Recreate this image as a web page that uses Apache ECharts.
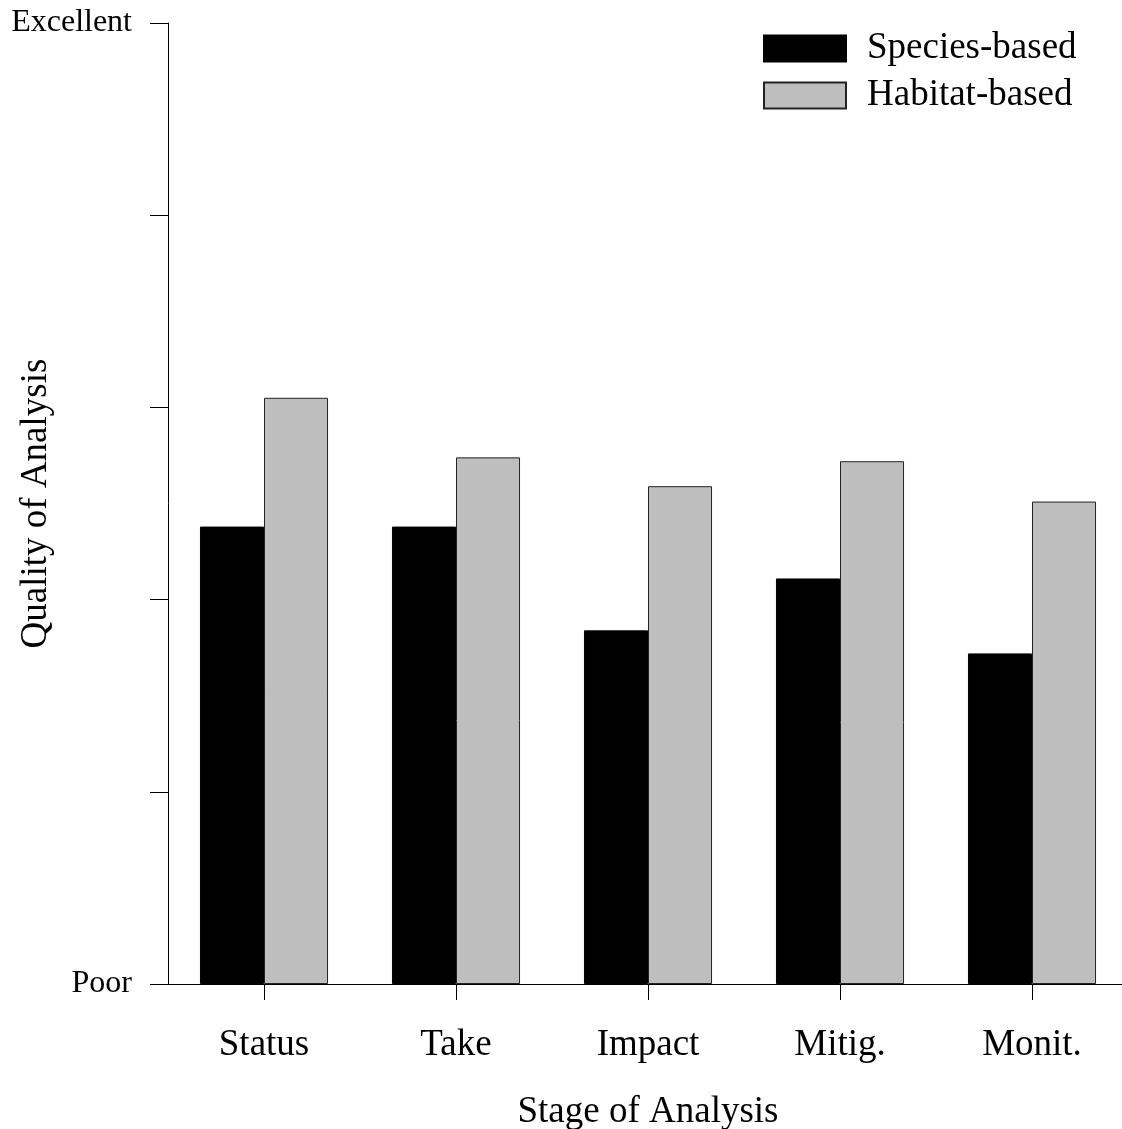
<!DOCTYPE html>
<html>
<head>
<meta charset="utf-8">
<script src="https://cdn.jsdelivr.net/npm/echarts@6/dist/echarts.min.js"></script>
<style>html,body{margin:0;padding:0;background:#fff;}#c{width:1122px;height:1129px;}</style>
</head>
<body>
<div id="c"></div>
<script>
const categories = ['Status', 'Take', 'Impact', 'Mitig.', 'Monit.'];
const speciesBased = [2.38, 2.38, 1.84, 2.11, 1.72];
const habitatBased = [3.05, 2.74, 2.59, 2.72, 2.51];
const yTickLabels = { 0: 'Poor', 5: 'Excellent' };
const seriesNames = ['Species-based', 'Habitat-based'];

const font = 'Liberation Serif, Times New Roman, serif';
const chart = echarts.init(document.getElementById('c'), null, { renderer: 'canvas' });
chart.setOption({
  backgroundColor: '#fff',
  animation: false,
  grid: { left: 168, top: 23, width: 960, height: 961, containLabel: false, outerBoundsMode: 'none' },
  legend: {
    left: 758, top: 25, orient: 'vertical',
    itemWidth: 82, itemHeight: 26, itemGap: 10,
    icon: 'rect',
    textStyle: { fontFamily: font, fontSize: 37, color: '#000', padding: [0, 0, 0, 16] },
    data: seriesNames
  },
  xAxis: {
    type: 'category', data: categories,
    name: 'Stage of Analysis', nameLocation: 'middle', nameGap: 110, nameMoveOverlap: false,
    nameTextStyle: { fontFamily: font, fontSize: 37, color: '#000' },
    axisLine: { show: true, lineStyle: { color: '#000', width: 1 } },
    axisTick: { show: true, alignWithLabel: true, length: 16, lineStyle: { color: '#000', width: 1 } },
    axisLabel: { fontFamily: font, fontSize: 37, color: '#000', margin: 43 },
    splitLine: { show: false }
  },
  yAxis: {
    type: 'value', min: 0, max: 5, interval: 1,
    name: 'Quality of Analysis', nameLocation: 'middle', nameGap: 113, nameMoveOverlap: false,
    nameTextStyle: { fontFamily: font, fontSize: 37, color: '#000' },
    axisLine: { show: true, lineStyle: { color: '#000', width: 1 } },
    axisTick: { show: true, length: 18, lineStyle: { color: '#000' } },
    axisLabel: { fontFamily: font, fontSize: 32, color: '#000', margin: 36, padding: [4, 0, 0, 0],
      formatter: v => (yTickLabels[v] !== undefined ? yTickLabels[v] : '') },
    splitLine: { show: false }
  },
  series: [
    { name: seriesNames[0], type: 'bar', data: speciesBased, barGap: '0%', barCategoryGap: '33.3%',
      itemStyle: { color: '#000', borderColor: '#000', borderWidth: 1 } },
    { name: seriesNames[1], type: 'bar', data: habitatBased,
      itemStyle: { color: '#bebebe', borderColor: '#222', borderWidth: 1 } }
  ]
});
</script>
</body>
</html>
